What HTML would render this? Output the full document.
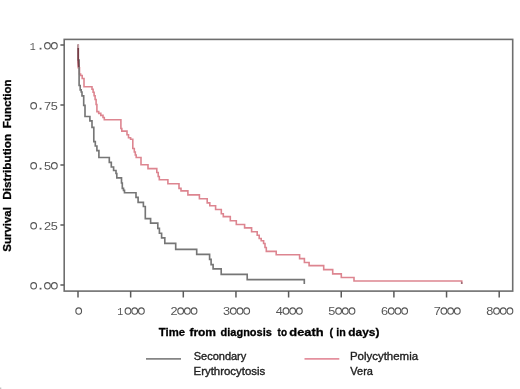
<!DOCTYPE html>
<html><head><meta charset="utf-8">
<style>
html,body{margin:0;padding:0;background:#fff;}
body{width:520px;height:389px;overflow:hidden;position:relative;}
svg{position:absolute;left:0;top:0;}
text{filter:grayscale(1);}
.d{font-family:"Liberation Sans",sans-serif;font-size:10.2px;fill:#555555;}
.d1{font-family:"Liberation Mono",monospace;font-size:11px;fill:#555555;}
.ttl{font-family:"Liberation Sans",sans-serif;font-weight:bold;font-size:11.5px;fill:#000;stroke:#000;stroke-width:0.3px;white-space:pre;}
.lg{font-family:"Liberation Sans",sans-serif;font-size:11px;fill:#222;stroke:#222;stroke-width:0.35px;}
</style></head>
<body>
<svg width="520" height="389" viewBox="0 0 520 389">
<rect x="64.2" y="39.4" width="448.5" height="251.7" fill="none" stroke="#6e6e6e" stroke-width="1.6"/>
<g stroke="#5a5a5a" stroke-width="1.5">
<line x1="60.4" y1="45.0" x2="64" y2="45.0"/>
<line x1="60.4" y1="105.0" x2="64" y2="105.0"/>
<line x1="60.4" y1="165.0" x2="64" y2="165.0"/>
<line x1="60.4" y1="225.0" x2="64" y2="225.0"/>
<line x1="60.4" y1="285.0" x2="64" y2="285.0"/>
<line x1="78.00" y1="291" x2="78.00" y2="297.5"/>
<line x1="130.65" y1="291" x2="130.65" y2="297.5"/>
<line x1="183.30" y1="291" x2="183.30" y2="297.5"/>
<line x1="235.95" y1="291" x2="235.95" y2="297.5"/>
<line x1="288.60" y1="291" x2="288.60" y2="297.5"/>
<line x1="341.25" y1="291" x2="341.25" y2="297.5"/>
<line x1="393.90" y1="291" x2="393.90" y2="297.5"/>
<line x1="446.55" y1="291" x2="446.55" y2="297.5"/>
<line x1="499.20" y1="291" x2="499.20" y2="297.5"/>
</g>
<text class="d1" text-anchor="middle" transform="translate(32.65,50.10) scale(0.9,1)">1</text>
<rect x="39.65" y="47.80" width="1.8" height="1.7" fill="#555555"/>
<ellipse cx="47.45" cy="45.80" rx="2.85" ry="3.2" fill="none" stroke="#555555" stroke-width="1.1"/>
<ellipse cx="54.35" cy="45.80" rx="2.85" ry="3.2" fill="none" stroke="#555555" stroke-width="1.1"/>
<ellipse cx="33.65" cy="105.80" rx="2.85" ry="3.2" fill="none" stroke="#555555" stroke-width="1.1"/>
<rect x="39.65" y="107.80" width="1.8" height="1.7" fill="#555555"/>
<text class="d" text-anchor="middle" transform="translate(47.45,110.10) scale(1.25,1)">7</text>
<text class="d" text-anchor="middle" transform="translate(54.35,110.10) scale(1.25,1)">5</text>
<ellipse cx="33.65" cy="165.80" rx="2.85" ry="3.2" fill="none" stroke="#555555" stroke-width="1.1"/>
<rect x="39.65" y="167.80" width="1.8" height="1.7" fill="#555555"/>
<text class="d" text-anchor="middle" transform="translate(47.45,170.10) scale(1.25,1)">5</text>
<ellipse cx="54.35" cy="165.80" rx="2.85" ry="3.2" fill="none" stroke="#555555" stroke-width="1.1"/>
<ellipse cx="33.65" cy="225.80" rx="2.85" ry="3.2" fill="none" stroke="#555555" stroke-width="1.1"/>
<rect x="39.65" y="227.80" width="1.8" height="1.7" fill="#555555"/>
<text class="d" text-anchor="middle" transform="translate(47.45,230.10) scale(1.25,1)">2</text>
<text class="d" text-anchor="middle" transform="translate(54.35,230.10) scale(1.25,1)">5</text>
<ellipse cx="33.65" cy="285.80" rx="2.85" ry="3.2" fill="none" stroke="#555555" stroke-width="1.1"/>
<rect x="39.65" y="287.80" width="1.8" height="1.7" fill="#555555"/>
<ellipse cx="47.45" cy="285.80" rx="2.85" ry="3.2" fill="none" stroke="#555555" stroke-width="1.1"/>
<ellipse cx="54.35" cy="285.80" rx="2.85" ry="3.2" fill="none" stroke="#555555" stroke-width="1.1"/>
<ellipse cx="78.70" cy="311.05" rx="2.85" ry="3.2" fill="none" stroke="#555555" stroke-width="1.1"/>
<text class="d1" text-anchor="middle" transform="translate(120.30,315.35) scale(0.9,1)">1</text>
<ellipse cx="128.00" cy="311.05" rx="2.85" ry="3.2" fill="none" stroke="#555555" stroke-width="1.1"/>
<ellipse cx="134.70" cy="311.05" rx="2.85" ry="3.2" fill="none" stroke="#555555" stroke-width="1.1"/>
<ellipse cx="141.40" cy="311.05" rx="2.85" ry="3.2" fill="none" stroke="#555555" stroke-width="1.1"/>
<text class="d" text-anchor="middle" transform="translate(173.95,315.35) scale(1.25,1)">2</text>
<ellipse cx="180.65" cy="311.05" rx="2.85" ry="3.2" fill="none" stroke="#555555" stroke-width="1.1"/>
<ellipse cx="187.35" cy="311.05" rx="2.85" ry="3.2" fill="none" stroke="#555555" stroke-width="1.1"/>
<ellipse cx="194.05" cy="311.05" rx="2.85" ry="3.2" fill="none" stroke="#555555" stroke-width="1.1"/>
<text class="d" text-anchor="middle" transform="translate(226.60,315.35) scale(1.25,1)">3</text>
<ellipse cx="233.30" cy="311.05" rx="2.85" ry="3.2" fill="none" stroke="#555555" stroke-width="1.1"/>
<ellipse cx="240.00" cy="311.05" rx="2.85" ry="3.2" fill="none" stroke="#555555" stroke-width="1.1"/>
<ellipse cx="246.70" cy="311.05" rx="2.85" ry="3.2" fill="none" stroke="#555555" stroke-width="1.1"/>
<text class="d" text-anchor="middle" transform="translate(279.25,315.35) scale(1.25,1)">4</text>
<ellipse cx="285.95" cy="311.05" rx="2.85" ry="3.2" fill="none" stroke="#555555" stroke-width="1.1"/>
<ellipse cx="292.65" cy="311.05" rx="2.85" ry="3.2" fill="none" stroke="#555555" stroke-width="1.1"/>
<ellipse cx="299.35" cy="311.05" rx="2.85" ry="3.2" fill="none" stroke="#555555" stroke-width="1.1"/>
<text class="d" text-anchor="middle" transform="translate(331.90,315.35) scale(1.25,1)">5</text>
<ellipse cx="338.60" cy="311.05" rx="2.85" ry="3.2" fill="none" stroke="#555555" stroke-width="1.1"/>
<ellipse cx="345.30" cy="311.05" rx="2.85" ry="3.2" fill="none" stroke="#555555" stroke-width="1.1"/>
<ellipse cx="352.00" cy="311.05" rx="2.85" ry="3.2" fill="none" stroke="#555555" stroke-width="1.1"/>
<text class="d" text-anchor="middle" transform="translate(384.55,315.35) scale(1.25,1)">6</text>
<ellipse cx="391.25" cy="311.05" rx="2.85" ry="3.2" fill="none" stroke="#555555" stroke-width="1.1"/>
<ellipse cx="397.95" cy="311.05" rx="2.85" ry="3.2" fill="none" stroke="#555555" stroke-width="1.1"/>
<ellipse cx="404.65" cy="311.05" rx="2.85" ry="3.2" fill="none" stroke="#555555" stroke-width="1.1"/>
<text class="d" text-anchor="middle" transform="translate(437.20,315.35) scale(1.25,1)">7</text>
<ellipse cx="443.90" cy="311.05" rx="2.85" ry="3.2" fill="none" stroke="#555555" stroke-width="1.1"/>
<ellipse cx="450.60" cy="311.05" rx="2.85" ry="3.2" fill="none" stroke="#555555" stroke-width="1.1"/>
<ellipse cx="457.30" cy="311.05" rx="2.85" ry="3.2" fill="none" stroke="#555555" stroke-width="1.1"/>
<text class="d" text-anchor="middle" transform="translate(489.85,315.35) scale(1.25,1)">8</text>
<ellipse cx="496.55" cy="311.05" rx="2.85" ry="3.2" fill="none" stroke="#555555" stroke-width="1.1"/>
<ellipse cx="503.25" cy="311.05" rx="2.85" ry="3.2" fill="none" stroke="#555555" stroke-width="1.1"/>
<ellipse cx="509.95" cy="311.05" rx="2.85" ry="3.2" fill="none" stroke="#555555" stroke-width="1.1"/>
<path fill="none" stroke="#dd8590" stroke-width="1.6" d="M78.2,44.5 V67.7 H79.5 V74 H80.6 V75.5 H82.2 V78.5 H84 V86.7 H92 V89.3 H93.1 V92.3 H94.1 V95.8 H95.1 V99.5 H96.1 V104.5 H96.9 V111.6 H98.7 V113.4 H100.8 V115.4 H103 V117.5 H104.3 V119.8 H120.9 V128.5 H121.8 V131.1 H127 V134.7 H128.5 V137.8 H130.6 V139.3 H132.8 V148.5 H134.3 V152 H135.3 V155 H136.2 V157.5 H141 V164.8 H148 V168.6 H156.8 V172.5 H158.2 V176.5 H159.3 V179.8 H167.9 V183.8 H179 V188.4 H181 V190.9 H187.9 V194.9 H199.4 V198.8 H207.2 V202.9 H209.8 V205.7 H215.6 V209.5 H221.3 V213.8 H223.3 V216.6 H230.3 V220.8 H236.3 V224.5 H244.6 V227.9 H251.6 V231.7 H257.2 V235.3 H259.2 V238.5 H261.2 V240.8 H263.6 V243.5 H265 V247.5 H266.3 V251.4 H276.2 V254.7 H299.6 V258.6 H304.4 V262.5 H309.1 V265.6 H323.7 V269.6 H332.7 V273.9 H341.3 V277.5 H354 V281 H461.7 V284"/>
<path fill="none" stroke="#767676" stroke-width="1.65" d="M78.2,44.5 V60 H79.1 V85.5 H80.2 V89.8 H81.2 V92 H82 V95.8 H83.7 V105.4 H85 V116.5 H89.9 V120.8 H92 V127.3 H93.8 V141.6 H95.3 V146 H96.9 V150.6 H98.9 V157.5 H109.3 V162.3 H111.3 V167 H113.6 V170.5 H116 V173.5 H116.8 V177.8 H121.5 V183 H122.3 V188.4 H123.5 V190.4 H124.5 V192.7 H136 V197.3 H138.1 V202.3 H143.4 V206.5 H145.3 V218.6 H150.6 V223.1 H157.8 V228.3 H159.4 V233.2 H161.6 V237.9 H164.8 V243.4 H175.7 V249.4 H196.7 V254.3 H209.6 V259.4 H211.1 V264.6 H213.1 V268.8 H221.2 V274.4 H247.2 V279.65 H304.3 V284"/>
<path fill="none" stroke="#9a7078" stroke-width="1.5" d="M461.7,281.8 V284"/>
<path fill="none" stroke="#c8a0a6" stroke-width="1.6" d="M78.3,44.3 V48"/>
<path fill="none" stroke="#7a3c46" stroke-width="1.6" d="M78.3,48 V62 L78.7,67"/>
<text class="ttl" x="158.8" y="336.1" textLength="26.2" lengthAdjust="spacingAndGlyphs">Time</text>
<text class="ttl" x="189.4" y="336.1" textLength="26.6" lengthAdjust="spacingAndGlyphs">from</text>
<text class="ttl" x="220.6" y="336.1" textLength="51.2" lengthAdjust="spacingAndGlyphs">diagnosis</text>
<text class="ttl" x="277.6" y="336.1" textLength="9.4" lengthAdjust="spacingAndGlyphs">to</text>
<text class="ttl" x="289.3" y="336.1" textLength="34.3" lengthAdjust="spacingAndGlyphs">death</text>
<text class="ttl" x="329.6" y="336.1" textLength="3.6" lengthAdjust="spacingAndGlyphs">(</text>
<text class="ttl" x="336.2" y="336.1" textLength="9.5" lengthAdjust="spacingAndGlyphs">in</text>
<text class="ttl" x="348.3" y="336.1" textLength="31.1" lengthAdjust="spacingAndGlyphs">days)</text>
<text class="ttl" transform="translate(11.4,251.7) rotate(-90)" x="0" y="0" textLength="44.6" lengthAdjust="spacingAndGlyphs">Survival</text>
<text class="ttl" transform="translate(11.4,199.7) rotate(-90)" x="0" y="0" textLength="65.9" lengthAdjust="spacingAndGlyphs">Distribution</text>
<text class="ttl" transform="translate(11.4,128.2) rotate(-90)" x="0" y="0" textLength="48.8" lengthAdjust="spacingAndGlyphs">Function</text>
<line x1="146" y1="358.9" x2="181" y2="358.9" stroke="#858585" stroke-width="1.9"/>
<line x1="304.5" y1="358.9" x2="339.3" y2="358.9" stroke="#e4909e" stroke-width="1.9"/>
<text class="lg" x="193.7" y="360">Secondary</text>
<text class="lg" x="193.5" y="374.7" textLength="71.8" lengthAdjust="spacingAndGlyphs">Erythrocytosis</text>
<text class="lg" x="349.9" y="360" textLength="68.2" lengthAdjust="spacingAndGlyphs">Polycythemia</text>
<text class="lg" x="350.3" y="374.7">Vera</text>
<rect x="0" y="387.5" width="1.3" height="1.5" fill="#c4c4c4"/>
</svg>
</body></html>
